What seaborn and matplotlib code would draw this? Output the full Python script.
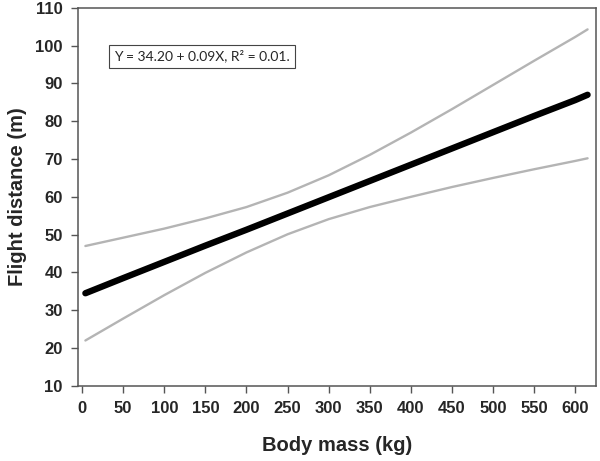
import numpy as np
import pandas as pd
import seaborn as sns
import matplotlib.pyplot as plt

# values
body_mass = [4, 50, 100, 150, 200, 250, 300, 350, 400, 450, 500, 550, 600, 615]
fit = [34.5, 38.5, 42.8, 47.1, 51.3, 55.6, 59.9, 64.2, 68.5, 72.8, 77.1, 81.4, 85.6, 87.0]
upper_ci = [47.0, 49.2, 51.6, 54.3, 57.3, 61.1, 65.7, 71.1, 77.0, 83.2, 89.6, 96.0, 102.3, 104.3]
lower_ci = [22.0, 27.8, 34.0, 39.9, 45.3, 50.1, 54.1, 57.3, 60.0, 62.6, 65.0, 67.3, 69.5, 70.2]

x_ticks = list(range(0, 601, 50))
y_ticks = list(range(10, 111, 10))
equation = "Y = 34.20 + 0.09X, R² = 0.01."

df = pd.DataFrame({"mass": body_mass, "fit": fit, "upper": upper_ci, "lower": lower_ci})

sns.set_style("ticks")
plt.rcParams["font.family"] = ["Liberation Sans", "DejaVu Sans"]

fig = plt.figure(figsize=(6, 4.61), dpi=100)
ax = fig.add_axes([0.13, 0.163, 0.863, 0.82])

sns.lineplot(data=df, x="mass", y="upper", color="#b4b4b4", linewidth=1.7, ax=ax)
sns.lineplot(data=df, x="mass", y="lower", color="#b4b4b4", linewidth=1.7, ax=ax)
sns.lineplot(data=df, x="mass", y="fit", color="black", linewidth=4.6, ax=ax)
ax.lines[-1].set_solid_capstyle("round")

ax.set_xlim(-5, 625)
ax.set_ylim(10, 110)
ax.set_xticks(x_ticks)
ax.set_yticks(y_ticks)
ax.tick_params(axis="both", direction="out", length=5, width=1, color="#555555",
               labelsize=12, pad=6)
for lab in ax.get_xticklabels() + ax.get_yticklabels():
    lab.set_fontweight("bold")
for sp in ax.spines.values():
    sp.set_visible(True)
    sp.set_color("#555555")
    sp.set_linewidth(1.1)

ax.set_xlabel("Body mass (kg)", fontsize=14.5, fontweight="bold")
ax.set_ylabel("Flight distance (m)", fontsize=14.5, fontweight="bold")
ax.xaxis.set_label_coords(0.5, -0.133)
ax.yaxis.set_label_coords(-0.098, 0.5)

ax.text(0.07, 0.872, equation, transform=ax.transAxes, fontsize=10,
        family=["Lato", "DejaVu Sans"], va="center", ha="left",
        bbox=dict(boxstyle="square,pad=0.35", facecolor="white",
                  edgecolor="#444444", linewidth=0.8))

fig.savefig("out.png", dpi=100)
